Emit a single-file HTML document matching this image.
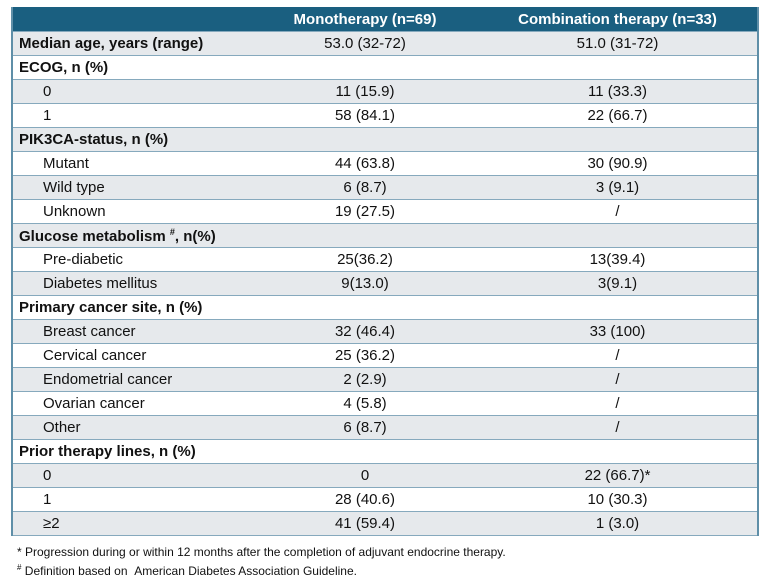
<!DOCTYPE html>
<html><head><style>
body{margin:0;background:#fff;font-family:"Liberation Sans",Arial,sans-serif;color:#111;}
table{position:absolute;left:11px;top:7px;width:746px;border-collapse:collapse;font-size:15px;table-layout:fixed;}
td,th{height:23px;padding:0;border-bottom:1px solid #86a9bd;white-space:nowrap;}
th{background:#1a5f80;color:#fff;font-weight:bold;height:24px;border-bottom:1px solid #86a9bd;}
tr.g td{background:#e6e9ec;}
td.l{padding-left:6px;}
td.s{padding-left:30px;}
td.b{font-weight:bold;}
td.c{text-align:center;}
table{border-left:2px solid #5f8fa8;border-right:2px solid #5f8fa8;}
.fn{position:absolute;left:17px;font-size:12px;}
</style></head><body>
<table>
<colgroup><col style="width:240px"><col style="width:226px"><col style="width:280px"></colgroup>
<tr><th></th><th>Monotherapy (n=69)</th><th>Combination therapy (n=33)</th></tr>
<tr class="g"><td class="l b">Median age, years (range)</td><td class="c">53.0 (32-72)</td><td class="c">51.0 (31-72)</td></tr>
<tr><td class="l b">ECOG, n (%)</td><td></td><td></td></tr>
<tr class="g"><td class="s">0</td><td class="c">11 (15.9)</td><td class="c">11 (33.3)</td></tr>
<tr><td class="s">1</td><td class="c">58 (84.1)</td><td class="c">22 (66.7)</td></tr>
<tr class="g"><td class="l b">PIK3CA-status, n (%)</td><td></td><td></td></tr>
<tr><td class="s">Mutant</td><td class="c">44 (63.8)</td><td class="c">30 (90.9)</td></tr>
<tr class="g"><td class="s">Wild type</td><td class="c">6 (8.7)</td><td class="c">3 (9.1)</td></tr>
<tr><td class="s">Unknown</td><td class="c">19 (27.5)</td><td class="c">/</td></tr>
<tr class="g"><td class="l b">Glucose metabolism <sup style="font-size:9px">#</sup>, n(%)</td><td></td><td></td></tr>
<tr><td class="s">Pre-diabetic</td><td class="c">25(36.2)</td><td class="c">13(39.4)</td></tr>
<tr class="g"><td class="s">Diabetes mellitus</td><td class="c">9(13.0)</td><td class="c">3(9.1)</td></tr>
<tr><td class="l b">Primary cancer site, n (%)</td><td></td><td></td></tr>
<tr class="g"><td class="s">Breast cancer</td><td class="c">32 (46.4)</td><td class="c">33 (100)</td></tr>
<tr><td class="s">Cervical cancer</td><td class="c">25 (36.2)</td><td class="c">/</td></tr>
<tr class="g"><td class="s">Endometrial cancer</td><td class="c">2 (2.9)</td><td class="c">/</td></tr>
<tr><td class="s">Ovarian cancer</td><td class="c">4 (5.8)</td><td class="c">/</td></tr>
<tr class="g"><td class="s">Other</td><td class="c">6 (8.7)</td><td class="c">/</td></tr>
<tr><td class="l b">Prior therapy lines, n (%)</td><td></td><td></td></tr>
<tr class="g"><td class="s">0</td><td class="c">0</td><td class="c">22 (66.7)*</td></tr>
<tr><td class="s">1</td><td class="c">28 (40.6)</td><td class="c">10 (30.3)</td></tr>
<tr class="g"><td class="s">≥2</td><td class="c">41 (59.4)</td><td class="c">1 (3.0)</td></tr>
</table>
<div class="fn" style="top:545px">* Progression during or within 12 months after the completion of adjuvant endocrine therapy.</div>
<div class="fn" style="top:563px"><sup style="font-size:8px">#</sup> Definition based on &nbsp;American Diabetes Association Guideline.</div>
</body></html>
